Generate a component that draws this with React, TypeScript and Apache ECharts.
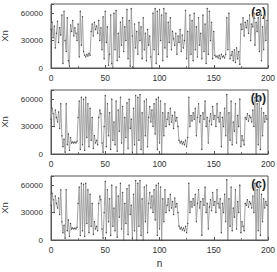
import React, { useEffect, useRef } from "react";
import * as echarts from "echarts";

// values in thousands (×1000 gives Xn)
const seriesA = [
  42, 50, 33, 46, 22, 38, 51, 28, 44, 36,
  58, 5, 62, 30, 18, 55, 8, 2, 47, 40,
  52, 35, 44, 38, 30, 48, 12, 62, 25, 56,
  18, 14, 12, 15, 13, 16, 14, 40, 48, 35,
  50, 42, 46, 38, 52, 30, 44, 20, 56, 10,
  62, 28, 45, 3, 15, 58, 5, 0, 60, 20,
  63, 8, 38, 12, 50, 25, 55, 18, 45, 30,
  64, 10, 52, 2, 65, 35, 0, 48, 22, 40,
  15, 50, 30, 45, 10, 55, 20, 38, 8, 42,
  25, 35, 12, 0, 60, 20, 65, 5, 62, 15,
  64, 30, 58, 8, 65, 22, 60, 12, 50, 28,
  55, 20, 40, 32, 25, 38, 15, 35, 28, 42,
  18, 36, 22, 30, 63, 10, 40, 0, 58, 15,
  52, 8, 60, 20, 45, 12, 55, 25, 38, 10,
  58, 18, 48, 5, 65, 15, 62, 30, 50, 10,
  40, 14, 12, 13, 11, 14, 10, 15, 12, 13,
  11, 15, 55, 20, 60, 10, 14, 18, 8, 20,
  6, 22, 10, 18, 4, 48, 42, 55, 35, 50,
  44, 52, 38, 58, 30, 48, 45, 60, 25, 50,
  40, 55, 18, 62, 8, 45, 20, 58, 30, 52,
];

const seriesB = [
  38, 50, 44, 30, 48, 40, 35, 46, 28, 55,
  20, 8, 16, 2, 55, 10, 22, 4, 18, 12,
  13, 12, 13, 12, 14, 40, 58, 5, 62, 10,
  60, 4, 62, 18, 55, 8, 50, 15, 40, 6,
  20, 12, 15, 10, 40, 48, 44, 12, 2, 30,
  64, 8, 55, 20, 45, 5, 60, 15, 35, 10,
  58, 3, 48, 25, 62, 12, 52, 0, 40, 18,
  56, 6, 60, 28, 38, 2, 50, 10, 64, 0,
  62, 15, 65, 5, 45, 0, 58, 20, 60, 8,
  40, 52, 35, 48, 30, 55, 22, 60, 5, 62,
  12, 58, 0, 45, 20, 55, 30, 38, 45, 32,
  50, 35, 42, 28, 46, 36, 40, 30, 15, 12,
  14, 11, 13, 10, 15, 8, 18, 62, 30, 42,
  36, 45, 38, 50, 20, 40, 55, 35, 42, 5,
  45, 38, 58, 30, 40, 12, 36, 44, 32, 52,
  38, 42, 30, 55, 40, 35, 45, 8, 40, 30,
  50, 20, 65, 0, 45, 15, 58, 10, 35, 25,
  55, 12, 42, 30, 60, 8, 20, 15, 10, 40,
  38, 44, 36, 42, 40, 35, 48, 30, 62, 0,
  55, 10, 64, 5, 50, 20, 45, 35, 42, 38,
];

const seriesC = [
  38, 51, 44, 30, 48, 40, 35, 46, 28, 55,
  20, 8, 16, 2, 55, 10, 22, 4, 18, 12,
  13, 12, 13, 12, 14, 40, 58, 5, 62, 10,
  61, 4, 62, 18, 55, 8, 50, 15, 40, 6,
  20, 12, 15, 10, 40, 48, 44, 12, 2, 30,
  64, 8, 55, 20, 45, 5, 60, 15, 35, 10,
  58, 3, 48, 25, 62, 12, 52, 0, 40, 18,
  56, 6, 60, 28, 38, 2, 50, 10, 65, 0,
  62, 15, 65, 5, 45, 0, 58, 20, 60, 8,
  40, 52, 35, 48, 30, 55, 22, 60, 5, 62,
  12, 58, 0, 45, 20, 55, 30, 38, 45, 32,
  50, 35, 42, 28, 46, 36, 40, 30, 15, 12,
  14, 11, 13, 10, 15, 8, 18, 62, 30, 42,
  36, 45, 38, 50, 20, 40, 55, 35, 42, 5,
  45, 38, 58, 30, 40, 12, 36, 44, 32, 52,
  38, 42, 30, 55, 40, 35, 45, 8, 40, 30,
  50, 20, 66, 0, 45, 15, 58, 10, 35, 25,
  55, 12, 42, 30, 60, 8, 20, 15, 10, 40,
  38, 44, 36, 42, 40, 35, 48, 30, 62, 0,
  55, 10, 64, 5, 50, 20, 45, 35, 42, 38,
];

const panelLabels = ["(a)", "(b)", "(c)"];
const xTicks = [0, 50, 100, 150, 200];
const yTicks = [0, 30000, 60000];

const FONT = "Liberation Sans, Arial, sans-serif";

export default function App() {
  const ref = useRef<HTMLDivElement>(null);
  useEffect(() => {
    if (!ref.current) return;
    const chart = echarts.init(ref.current, null, { renderer: "svg" });
    const all = [seriesA, seriesB, seriesC];
    const tops = [4, 90, 176];
    const h = 64;
    const grids = tops.map((t) => ({
      left: 51,
      right: 9,
      top: t,
      height: h,
      show: true,
      containLabel: false,
      outerBoundsMode: "none",
      borderColor: "#555",
      borderWidth: 1,
      backgroundColor: "transparent",
    }));
    const xAxes = all.map((_, i) => ({
      type: "value",
      gridIndex: i,
      min: 0,
      max: 200,
      interval: 50,
      name: i === 2 ? "n" : "",
      nameLocation: "middle",
      nameGap: 18,
      nameTextStyle: { fontFamily: FONT, fontSize: 10, color: "#333" },
      axisLine: { show: true, lineStyle: { color: "#555", width: 1 } },
      axisTick: { show: true, inside: true, length: 3, lineStyle: { color: "#555" } },
      minorTick: { show: true, splitNumber: 2, length: 2, lineStyle: { color: "#777" } },
      splitLine: { show: false },
      axisLabel: {
        fontFamily: FONT,
        fontSize: 8.5,
        color: "#333",
        margin: 5,
        formatter: (v: number) => (xTicks.includes(v) ? String(v) : ""),
      },
    }));
    const yAxes = all.map((_, i) => ({
      type: "value",
      gridIndex: i,
      min: 0,
      max: 70000,
      interval: 30000,
      name: "Xn",
      nameLocation: "middle",
      nameGap: 36,
      nameTextStyle: { fontFamily: FONT, fontSize: 9.5, color: "#333" },
      axisLine: { show: true, lineStyle: { color: "#555", width: 1 } },
      axisTick: { show: true, inside: true, length: 3, lineStyle: { color: "#555" } },
      splitLine: { show: false },
      axisLabel: {
        fontFamily: FONT,
        fontSize: 8,
        color: "#333",
        margin: 8,
        formatter: (v: number) => (yTicks.includes(v) ? String(v) : ""),
      },
    }));
    const series = all.map((arr, i) => ({
      type: "line",
      xAxisIndex: i,
      yAxisIndex: i,
      data: arr.map((v, n) => [n, v * 1000]),
      showSymbol: true,
      symbol: "circle",
      symbolSize: 1.3,
      itemStyle: { color: "#444" },
      lineStyle: { color: "#999", width: 0.9 },
      silent: true,
    }));
    const graphic = panelLabels.map((lab, i) => ({
      type: "text",
      right: 11,
      top: tops[i] + 2,
      style: {
        text: lab,
        fontFamily: FONT,
        fontSize: 12,
        fontWeight: "bold",
        fill: "#222",
      },
    }));
    chart.setOption({
      animation: false,
      backgroundColor: "#fff",
      grid: grids,
      xAxis: xAxes,
      yAxis: yAxes,
      series,
      graphic,
    });
    return () => chart.dispose();
  }, []);
  return <div ref={ref} style={{ width: 277, height: 272, position: "absolute", left: 0, top: 0 }} />;
}
